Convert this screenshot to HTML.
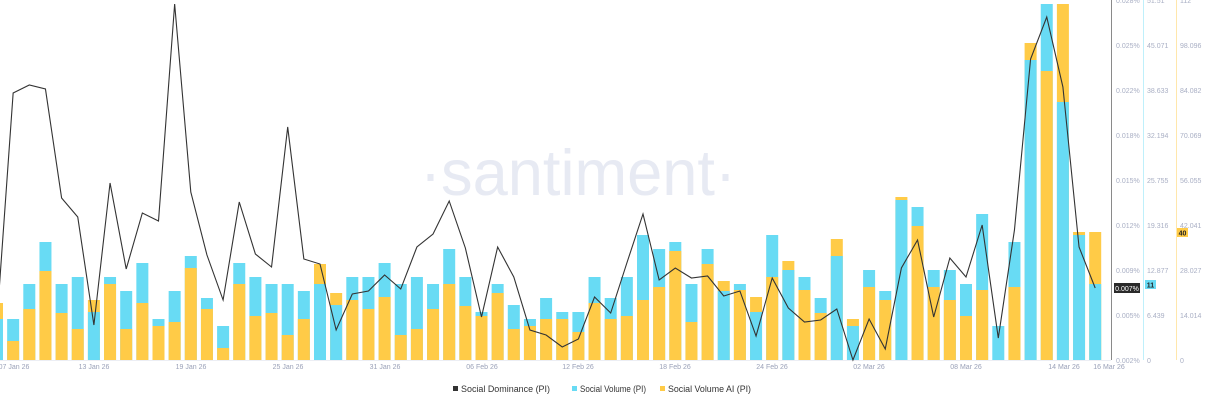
<!DOCTYPE html>
<html><head><meta charset="utf-8">
<style>
html,body{margin:0;padding:0;background:#fff;}
body{width:1205px;height:403px;overflow:hidden;position:relative;font-family:"Liberation Sans",sans-serif;}
svg{position:absolute;left:0;top:0;}
</style></head>
<body>
<svg id="c" width="1205" height="403" viewBox="0 0 1205 403" xmlns="http://www.w3.org/2000/svg">
<text x="578" y="195" text-anchor="middle" font-family="Liberation Sans, sans-serif" font-size="65" fill="#e7eaf3" textLength="316" lengthAdjust="spacingAndGlyphs">·santiment·</text>
<g id="bars"></g>
<line x1="0" y1="360.5" x2="1111" y2="360.5" stroke="#eceef4" stroke-width="1"/>
<polyline id="ln" fill="none" stroke="#333" stroke-width="1.1" points=""/>
<line x1="1111.5" y1="0" x2="1111.5" y2="360" stroke="#8a8a8a" stroke-width="1"/>
<line x1="1143.5" y1="0" x2="1143.5" y2="360" stroke="#bff0fb" stroke-width="1"/>
<line x1="1176.5" y1="0" x2="1176.5" y2="360" stroke="#ffe7ac" stroke-width="1"/>
<g font-size="7" fill="#a9afc4" font-family="Liberation Sans, sans-serif">
<text x="1116" y="3">0.028%</text><text x="1116" y="48">0.025%</text><text x="1116" y="93">0.022%</text><text x="1116" y="138">0.018%</text><text x="1116" y="183">0.015%</text><text x="1116" y="228">0.012%</text><text x="1116" y="273">0.009%</text><text x="1116" y="318">0.005%</text><text x="1116" y="363">0.002%</text>
<text x="1147" y="3">51.51</text><text x="1147" y="48">45.071</text><text x="1147" y="93">38.633</text><text x="1147" y="138">32.194</text><text x="1147" y="183">25.755</text><text x="1147" y="228">19.316</text><text x="1147" y="273">12.877</text><text x="1147" y="318">6.439</text><text x="1147" y="363">0</text>
<text x="1180" y="3">112</text><text x="1180" y="48">98.096</text><text x="1180" y="93">84.082</text><text x="1180" y="138">70.069</text><text x="1180" y="183">56.055</text><text x="1180" y="228">42.041</text><text x="1180" y="273">28.027</text><text x="1180" y="318">14.014</text><text x="1180" y="363">0</text>
</g>
<rect x="1114" y="283" width="26" height="10" fill="#2a2a2a"/>
<text x="1127" y="291" text-anchor="middle" font-size="7" fill="#fff">0.007%</text>
<rect x="1145" y="280" width="11" height="9" fill="#68dbf4"/>
<text x="1150.5" y="287.5" text-anchor="middle" font-size="7" fill="#222" font-weight="bold">11</text>
<rect x="1177" y="228" width="11" height="9" fill="#ffcb47"/>
<text x="1182.5" y="235.5" text-anchor="middle" font-size="7" fill="#222" font-weight="bold">40</text>
<g font-size="7" fill="#9aa1b8" font-family="Liberation Sans, sans-serif" text-anchor="middle">
<text x="14" y="369">07 Jan 26</text>
<text x="94" y="369">13 Jan 26</text>
<text x="191" y="369">19 Jan 26</text>
<text x="288" y="369">25 Jan 26</text>
<text x="385" y="369">31 Jan 26</text>
<text x="482" y="369">06 Feb 26</text>
<text x="578" y="369">12 Feb 26</text>
<text x="675" y="369">18 Feb 26</text>
<text x="772" y="369">24 Feb 26</text>
<text x="869" y="369">02 Mar 26</text>
<text x="966" y="369">08 Mar 26</text>
<text x="1064" y="369">14 Mar 26</text>
<text x="1109" y="369">16 Mar 26</text>
</g>
<rect x="453" y="386" width="5" height="5" fill="#333"/>
<text x="461" y="392" font-size="9" fill="#333" textLength="89" lengthAdjust="spacingAndGlyphs">Social Dominance (PI)</text>
<rect x="572" y="386" width="5" height="5" fill="#68dbf4"/>
<text x="580" y="392" font-size="9" fill="#333" textLength="66" lengthAdjust="spacingAndGlyphs">Social Volume (PI)</text>
<rect x="660" y="386" width="5" height="5" fill="#ffcb47"/>
<text x="668" y="392" font-size="9" fill="#333" textLength="83" lengthAdjust="spacingAndGlyphs">Social Volume AI (PI)</text>
</svg>
<script>
var C=[319,319,284,242,284,277,312,277,291,263,319,291,256,298,326,263,277,284,284,291,284,305,277,277,263,284,277,284,249,277,312,284,305,319,298,312,312,277,298,277,235,249,242,284,249,291,284,312,235,270,277,298,256,326,270,291,200,207,270,270,284,214,326,242,60,4,102,235,284];
var Y=[303,341,309,271,313,329,300,284,329,303,326,322,268,309,348,284,316,313,335,319,264,293,300,309,297,335,329,309,284,306,316,293,329,326,319,319,332,303,319,316,300,287,251,322,264,281,290,297,277,261,290,313,239,319,287,300,197,226,287,300,316,290,360,287,43,71,4,232,232];
var L=[320,93,85,89,198,217,325,183,269,213,221,4,192,255,300,202,254,267,127,259,264,330,294,291,275,289,247,234,201,248,317,247,277,330,335,347,339,297,313,263,214,280,268,278,276,296,291,336,278,308,322,320,309,360,319,349,268,240,317,258,277,225,338,230,59,17,87,247,288];
var ns="http://www.w3.org/2000/svg",g=document.getElementById("bars"),pts=[];
function r(x,t,f){if(t>=360)return;var e=document.createElementNS(ns,"rect");e.setAttribute("x",x);e.setAttribute("y",t);e.setAttribute("width",12);e.setAttribute("height",360-t);e.setAttribute("fill",f);g.appendChild(e);}
for(var k=0;k<69;k++){var cx=-3+16.15*k,x=cx-6;
 if(C[k]<Y[k]){r(x,C[k],"#68dbf4");r(x,Y[k],"#ffcb47");}else{r(x,Y[k],"#ffcb47");r(x,C[k],"#68dbf4");}
 pts.push(cx.toFixed(2)+","+L[k]);}
document.getElementById("ln").setAttribute("points",pts.join(" "));
</script>
</body></html>
